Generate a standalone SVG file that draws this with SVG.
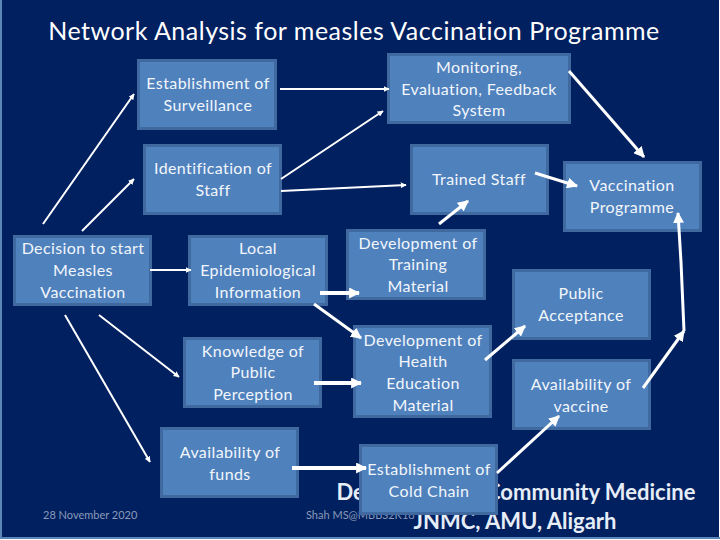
<svg xmlns="http://www.w3.org/2000/svg" width="720" height="540" viewBox="0 0 720 540">
<style>
.b{fill:#4f81bd;stroke:#40699f;stroke-width:3}
.t{font-family:"Lato","Open Sans",sans-serif;font-size:16px;fill:#f2f6fb;text-anchor:middle;letter-spacing:.4px}
.f{font-family:"Lato","Open Sans",sans-serif;font-size:11px;fill:#8b9ab8}
.d{font-family:"Lato","Open Sans",sans-serif;font-size:22px;font-weight:700;fill:#e6edf7;text-anchor:middle}
.c{fill:none;stroke:#fff;stroke-linecap:butt}
.s{stroke-width:2}.m{stroke-width:3}.l{stroke-width:4}
</style>
<defs>
<marker id="a" viewBox="0 0 10 10" refX="9" refY="5" markerWidth="6" markerHeight="6" markerUnits="userSpaceOnUse" orient="auto"><path d="M0 0L10 5L0 10Z" fill="#fff"/></marker>
<marker id="b" viewBox="0 0 10 10" refX="9" refY="5" markerWidth="11" markerHeight="11" markerUnits="userSpaceOnUse" orient="auto"><path d="M0 0L10 5L0 10Z" fill="#fff"/></marker>
</defs>
<rect x="1" y="0" width="718" height="538" fill="#002060"/>
<path d="M1 0V538H720" fill="none" stroke="#5b86b8" stroke-width="2"/>
<text x="354" y="40" font-family="Lato,'Open Sans',sans-serif" font-size="25" fill="#fff" text-anchor="middle" letter-spacing=".5">Network Analysis for measles Vaccination Programme</text>
<text class="d" x="516" y="500">Department of Community Medicine</text>
<text class="d" x="515" y="529">JNMC, AMU, Aligarh</text>
<text class="f" x="43" y="519">28 November 2020</text>
<text class="f" x="306" y="519">Shah MS@MBBS2K18</text>
<g id="n1"><rect class="b" x="138.500" y="60.500" width="137" height="68"/><text class="t" x="208" y="89">Establishment of</text><text class="t" x="208" y="111">Surveillance</text></g>
<g id="n2"><rect class="b" x="144.500" y="145.500" width="136" height="68"/><text class="t" x="213" y="174">Identification of</text><text class="t" x="213" y="196">Staff</text></g>
<g id="n3"><rect class="b" x="14.500" y="236.500" width="136" height="68"/><text class="t" x="83" y="254">Decision to start</text><text class="t" x="83" y="276">Measles</text><text class="t" x="83" y="298">Vaccination</text></g>
<g id="n4"><rect class="b" x="189.500" y="236.500" width="137" height="68"/><text class="t" x="258" y="254">Local</text><text class="t" x="258" y="276">Epidemiological</text><text class="t" x="258" y="298">Information</text></g>
<g id="n5"><rect class="b" x="184.500" y="338.500" width="136" height="68"/><text class="t" x="253" y="357">Knowledge of</text><text class="t" x="253" y="378">Public</text><text class="t" x="253" y="400">Perception</text></g>
<g id="n6"><rect class="b" x="161.500" y="428.500" width="136" height="68"/><text class="t" x="230" y="458">Availability of</text><text class="t" x="230" y="480">funds</text></g>
<g id="n7"><rect class="b" x="388.500" y="54.500" width="181" height="68"/><text class="t" x="479" y="73">Monitoring,</text><text class="t" x="479" y="95">Evaluation, Feedback</text><text class="t" x="479" y="116">System</text></g>
<g id="n8"><rect class="b" x="411.500" y="145.500" width="136" height="68"/><text class="t" x="479" y="185">Trained Staff</text></g>
<g id="n9"><rect class="b" x="564.500" y="162.500" width="136" height="68"/><text class="t" x="632" y="191">Vaccination</text><text class="t" x="632" y="213">Programme</text></g>
<g id="n10"><rect class="b" x="347.500" y="230.500" width="137" height="68"/><text class="t" x="418" y="249">Development of</text><text class="t" x="418" y="270">Training</text><text class="t" x="418" y="292">Material</text></g>
<g id="n11"><rect class="b" x="513.500" y="270.500" width="136" height="68"/><text class="t" x="581" y="299">Public</text><text class="t" x="581" y="321">Acceptance</text></g>
<g id="n12"><rect class="b" x="354.500" y="326.500" width="136" height="90"/><text class="t" x="423" y="346">Development of</text><text class="t" x="423" y="367">Health</text><text class="t" x="423" y="389">Education</text><text class="t" x="423" y="411">Material</text></g>
<g id="n13"><rect class="b" x="513.500" y="360.500" width="136" height="68"/><text class="t" x="581" y="390">Availability of</text><text class="t" x="581" y="412">vaccine</text></g>
<g id="n14"><rect class="b" x="360.500" y="445.500" width="136" height="68"/><text class="t" x="429" y="475">Establishment of</text><text class="t" x="429" y="497">Cold Chain</text></g>
<g id="connectors">
<path class="c s" marker-end="url(#a)" d="M43 224L134 94"/>
<path class="c s" marker-end="url(#a)" d="M82 231L134 179"/>
<path class="c s" marker-end="url(#a)" d="M150 270H191"/>
<path class="c s" marker-end="url(#a)" d="M65 315L150 462"/>
<path class="c s" marker-end="url(#a)" d="M99 315L179 377"/>
<path class="c s" marker-end="url(#a)" d="M280 89H389"/>
<path class="c s" marker-end="url(#a)" d="M281 179L383 111"/>
<path class="c s" marker-end="url(#a)" d="M281 191L406 185"/>
<path class="c l" marker-end="url(#b)" d="M320 293H359"/>
<path class="c m" marker-end="url(#b)" d="M314 304L361 338"/>
<path class="c l" marker-end="url(#b)" d="M314 383H361"/>
<path class="c l" marker-end="url(#b)" d="M292 468H366"/>
<path class="c m" marker-end="url(#b)" d="M439 224L468 201"/>
<path class="c m" marker-end="url(#b)" d="M535 173L577 186"/>
<path class="c m" marker-end="url(#b)" d="M569 71L644 157"/>
<path class="c m" marker-end="url(#b)" d="M485 360L525 326"/>
<path class="c m" marker-end="url(#b)" d="M497 473L559 416"/>
<path class="c m" marker-end="url(#b)" d="M643 388L684 331"/>
<path class="c m" marker-end="url(#b)" d="M684 331L681 262L678 213"/>
</g>
</svg>
